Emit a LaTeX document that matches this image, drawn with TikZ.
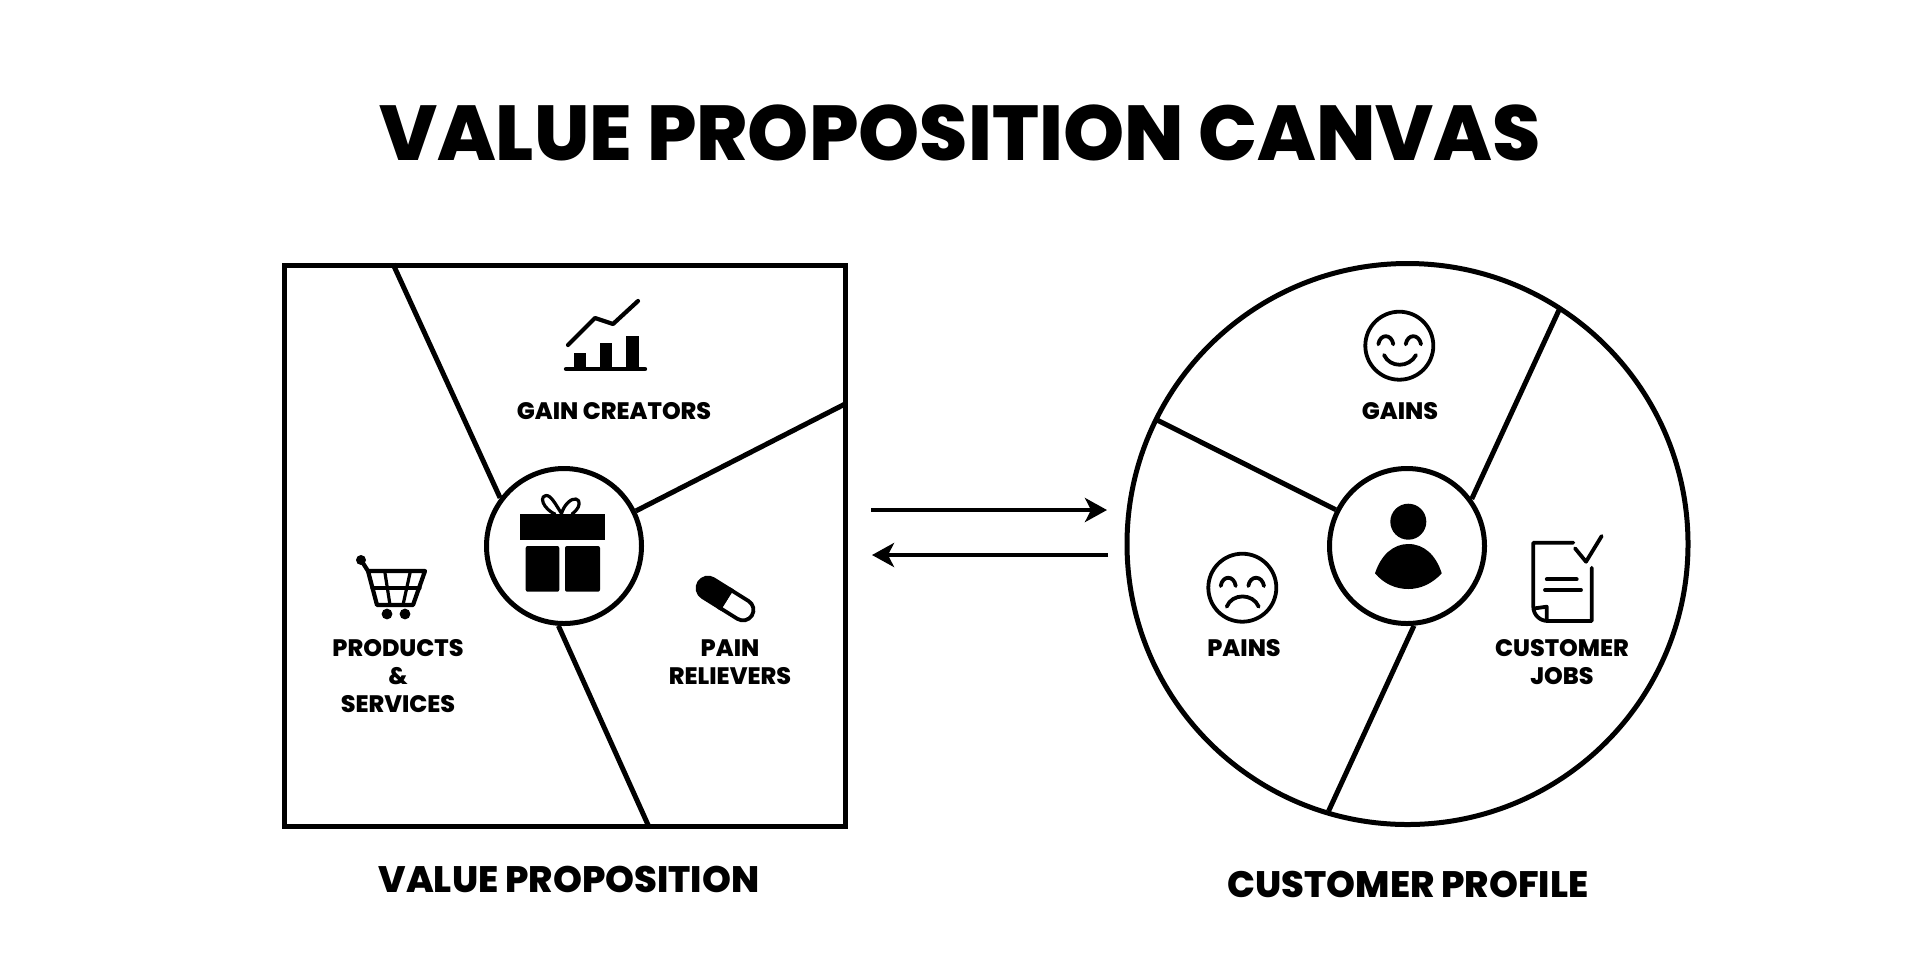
\documentclass[tikz,border=0pt]{standalone}
\usepackage{fontspec}
\setmainfont{Poppins ExtraBold}
\usetikzlibrary{arrows.meta}
\tikzset{
  x=0.5pt,y=-0.5pt,
  hub/.style={circle,draw=black,line width=2.5pt,fill=white,inner sep=0pt,minimum size=77.5pt},
  divider/.style={draw=black,line width=2.5pt},
  flow/.style={draw=black,line width=2.4pt,-{Stealth[length=11pt,width=12pt,inset=3pt]}},
  icon/.style={draw=black,line width=1.9pt,line cap=round,line join=round,fill=none},
  solid icon/.style={fill=black,draw=none},
  lab/.style={font=\fontsize{11.9pt}{14pt}\selectfont,align=center,inner sep=0pt,text=black},
  caption/.style={font=\fontsize{18.4pt}{20pt}\selectfont,inner sep=0pt,text=black},
}
\begin{document}
\begin{tikzpicture}
\useasboundingbox (0,0) rectangle (1920,960);
\fill[white] (0,0) rectangle (1920,960);
\node[font=\fontsize{38.9pt}{40pt}\selectfont,inner sep=0pt] (title) at (960,133) {VALUE PROPOSITION CANVAS};

% value proposition square
\node[draw=black,line width=2.5pt,minimum width=280.5pt,minimum height=280.5pt,inner sep=0pt] (vp) at (564.5,545.5) {};
\node[hub] (vphub) at (564,546) {};
\coordinate (vpa) at (393,264);
\coordinate (vpb) at (845,404);
\coordinate (vpc) at (649,827);
\path[divider] (vpa) -- (vphub.143.6);
\path[divider] (vpb) -- (vphub.26);
\path[divider] (vpc) -- (vphub.-94);

% customer circle
\node[circle,draw=black,line width=2.5pt,inner sep=0pt,minimum size=280.5pt] (cp) at (1407.5,544) {};
\node[hub] (cphub) at (1407,546) {};
\coordinate (cpa) at (1559,310);
\coordinate (cpb) at (1157,420);
\coordinate (cpc) at (1328.6,811);
\path[divider] (cpa) -- (cphub.36);
\path[divider] (cpb) -- (cphub.153.4);
\path[divider] (cpc) -- (cphub.-85.7);

% arrows
\coordinate (fa) at (871,510);
\coordinate (fb) at (1107,510);
\coordinate (fc) at (1108,555);
\coordinate (fd) at (872,555);
\path[flow] (fa) -- (fb);
\path[flow] (fc) -- (fd);

% labels
\node[lab] (l1) at (614,411) {GAIN CREATORS};
\node[lab] (l2) at (398,676) {PRODUCTS\\[0pt]\&\\[0pt]SERVICES};
\node[lab] (l3) at (730,662) {PAIN\\[0pt]RELIEVERS};
\node[lab] (l4) at (1400,411) {GAINS};
\node[lab] (l5) at (1244,648) {PAINS};
\node[lab] (l6) at (1562,662) {CUSTOMER\\[0pt]JOBS};
\node[caption] (c1) at (569,879) {VALUE PROPOSITION};
\node[caption] (c2) at (1408,884) {CUSTOMER PROFILE};

% chart icon
\fill[solid icon] (573.7,353.3) rectangle (586,369);
\fill[solid icon] (599.7,343) rectangle (612.3,369);
\fill[solid icon] (625.7,335.7) rectangle (638.7,369);
\draw[icon,line width=2.2pt] (566,369) -- (645,369);
\draw[icon,line width=2.1pt] (568,345) -- (595,318) -- (613,324) -- (638,301);

% gift icon
\fill[solid icon] (520,514.3) rectangle (605.3,540);
\fill[solid icon,rounded corners=1pt] (525.7,546) rectangle (559.3,591.7);
\fill[solid icon,rounded corners=1pt] (565,546) rectangle (600,591.7);
\draw[icon,line width=1.6pt] (561.5,513.5) .. controls (556,505) and (551,495) .. (546,495.5) .. controls (541,496) and (542,502) .. (545,506) .. controls (548,510) and (552,513) .. (555,514);
\draw[icon,line width=1.6pt] (561.5,513.5) .. controls (564,505) and (571,498) .. (576,499) .. controls (581,500) and (579,507) .. (577,509) .. controls (575,512) and (573,513) .. (572,514);

% cart icon
\fill[solid icon] (361,560) circle[radius=5];
\draw[icon,line width=2.1pt] (361,560) -- (368,571) -- (377,605) -- (413,605) -- (425,571) -- (368,571);
\draw[icon,line width=1.6pt] (372,588) -- (420,588);
\draw[icon,line width=1.6pt] (385,573) -- (390,605);
\draw[icon,line width=1.6pt] (410,573) -- (403,605);
\fill[solid icon] (387,614) circle[radius=5.4];
\fill[solid icon] (405,614) circle[radius=5.4];

% pill icon
\begin{scope}[shift={(725.5,599)},rotate=-32]
\path[fill=white,draw=black,line width=1.9pt] (0,-10.5) -- (20.6,-10.5) arc[start angle=-90,end angle=90,radius=10.5] -- (0,10.5) -- cycle;
\path[fill=black,draw=black,line width=1.9pt] (0,10.5) -- (-20.6,10.5) arc[start angle=90,end angle=270,radius=10.5] -- (0,-10.5) -- cycle;
\end{scope}

% smiley
\draw[icon] (1399.3,345.7) circle[radius=34];
\draw[icon] (1378.3,344.3) .. controls (1380,333.5) and (1391.5,333.5) .. (1393.3,344.3);
\draw[icon] (1405.7,344.3) .. controls (1407.5,333.5) and (1419,333.5) .. (1421,344.3);
\draw[icon] (1384,355) .. controls (1390,368) and (1409,368) .. (1416,355);

% sad face
\draw[icon] (1242.3,587.7) circle[radius=34];
\draw[icon] (1220.7,586) .. controls (1222.5,575) and (1234,575) .. (1235.7,586);
\draw[icon] (1248.3,586) .. controls (1250,575) and (1262,575) .. (1264,586);
\draw[icon] (1226.7,606.7) .. controls (1232,593) and (1253,593) .. (1258.7,606.7);

% person
\fill[solid icon] (1408.3,521.7) circle[radius=18];
\fill[solid icon] (1375,573.3) .. controls (1381,555) and (1393,544) .. (1408.3,544) .. controls (1424,544) and (1436,555) .. (1441.7,573.3) .. controls (1432,584) and (1420,589) .. (1408.3,589) .. controls (1396,589) and (1384,584) .. (1375,573.3) -- cycle;

% document
\draw[icon] (1573.3,542.7) -- (1533.3,542.7) -- (1533.3,606.7) .. controls (1533.3,615) and (1540,621) .. (1548,621) -- (1591.7,621) -- (1591.7,567.7);
\draw[icon] (1575,548.3) -- (1586,561.7) -- (1601.7,536);
\draw[icon] (1546.7,579.3) -- (1576.7,579.3);
\draw[icon] (1545,590) -- (1581,590);
\draw[icon] (1535,608.3) -- (1546.7,606.7) -- (1546.7,619);
\end{tikzpicture}
\end{document}
